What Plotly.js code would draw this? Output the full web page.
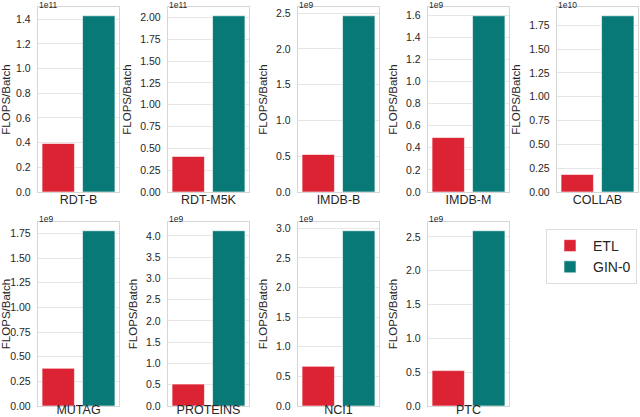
<!DOCTYPE html>
<html>
<head>
<meta charset="utf-8">
<script src="https://cdn.plot.ly/plotly-3.0.1.min.js"></script>
<style>
  html, body { margin: 0; padding: 0; background: #ffffff; }
  #chart { width: 640px; height: 417px; }
</style>
</head>
<body>
<div id="chart"></div>
<script>
// FLOPS per batch, ETL vs GIN-0, one panel per dataset.
// Values are mantissas; the panel exponent is shown above each y axis.
const datasets = ['RDT-B', 'RDT-M5K', 'IMDB-B', 'IMDB-M', 'COLLAB', 'MUTAG', 'PROTEINS', 'NCI1', 'PTC'];
const methods = ['ETL', 'GIN-0'];
const etlValues = [0.393, 0.408, 0.525, 0.493, 0.185, 0.383, 0.515, 0.67, 0.523];
const ginValues = [1.428, 2.02, 2.463, 1.595, 1.85, 1.778, 4.12, 2.96, 2.59];
const exponentLabels = ['1e11', '1e11', '1e9', '1e9', '1e10', '1e9', '1e9', '1e9', '1e9'];
const tickSteps = [0.2, 0.25, 0.5, 0.2, 0.25, 0.25, 0.5, 0.5, 0.5];
const tickDecimals = [1, 2, 1, 1, 2, 2, 1, 1, 1];

const COLOR_ETL = '#dc2333';
const COLOR_GIN = '#087976';
const TEXT = '#262626';
const SPINE = '#d6d6d6';
const GRID = '#e6e6e6';
const FONT = '"Liberation Sans", Arial, sans-serif';

const W = 640, H = 417;
const colLeft = [38, 168, 298, 428, 557];
const plotWidth = 81;
const rowTop = [7, 222];
const rowBottom = [192, 406];

const traces = [];
const layout = {
  width: W,
  height: H,
  margin: { l: 0, r: 0, t: 0, b: 0 },
  paper_bgcolor: '#ffffff',
  plot_bgcolor: '#ffffff',
  font: { family: FONT, color: TEXT, size: 11 },
  bargap: 0.2,
  showlegend: true,
  legend: {
    x: 546 / W, y: 1 - 229 / H,
    xanchor: 'left', yanchor: 'top',
    bordercolor: '#dddddd', borderwidth: 1,
    font: { size: 14, color: TEXT },
    itemwidth: 36,
    tracegroupgap: 0
  },
  annotations: []
};

function ticksFor(i, top) {
  const vals = [], text = [];
  const step = tickSteps[i];
  for (let k = 0; k * step <= top + 1e-9; k++) {
    vals.push(k * step);
    text.push((k * step).toFixed(tickDecimals[i]));
  }
  return { vals, text };
}

datasets.forEach((name, i) => {
  const row = i < 5 ? 0 : 1;
  const col = i % 5;
  const n = i + 1;
  const xa = 'x' + (n === 1 ? '' : n);
  const ya = 'y' + (n === 1 ? '' : n);
  const vals = [etlValues[i], ginValues[i]];
  const top = Math.max(...vals) * 1.05;

  methods.forEach((m, j) => {
    traces.push({
      type: 'bar',
      x: [m],
      y: [vals[j]],
      xaxis: xa,
      yaxis: ya,
      name: m,
      legendgroup: m,
      showlegend: i === 0,
      marker: { color: j === 0 ? COLOR_ETL : COLOR_GIN, line: { color: '#ffffff', width: 0.6 } },
      hoverinfo: 'skip'
    });
  });

  const x0 = colLeft[col] / W;
  const x1 = (colLeft[col] + plotWidth) / W;
  const y0 = 1 - rowBottom[row] / H;
  const y1 = 1 - rowTop[row] / H;
  const t = ticksFor(i, top);

  layout['xaxis' + (n === 1 ? '' : n)] = {
    domain: [x0, x1],
    anchor: ya,
    type: 'category',
    categoryorder: 'array',
    categoryarray: methods,
    range: [-0.5, 1.5],
    showticklabels: false,
    ticks: '',
    showgrid: false,
    zeroline: false,
    showline: true, mirror: true, linecolor: SPINE, linewidth: 1.2,
    title: { text: name, font: { size: 12.5, color: TEXT }, standoff: 3 }
  };
  layout['yaxis' + (n === 1 ? '' : n)] = {
    domain: [y0, y1],
    anchor: xa,
    range: [0, top],
    tickvals: t.vals,
    ticktext: t.text,
    tickfont: { size: 10.5, color: TEXT },
    ticks: '',
    ticklabelstandoff: 4,
    showgrid: true, gridcolor: GRID, gridwidth: 1,
    zeroline: false,
    showline: true, mirror: true, linecolor: SPINE, linewidth: 1.2,
    title: { text: 'FLOPS/Batch', font: { size: 11.5, color: TEXT }, standoff: 6 }
  };
  layout.annotations.push({
    xref: 'paper', yref: 'paper',
    x: x0, y: row === 0 ? 1 : y1,
    xanchor: 'left', yanchor: row === 0 ? 'top' : 'bottom',
    yshift: row === 0 ? 1 : -3,
    borderpad: 0,
    showarrow: false,
    text: exponentLabels[i],
    font: { size: 8.5, color: TEXT }
  });
});

Plotly.newPlot('chart', traces, layout, { displayModeBar: false, staticPlot: true });
</script>
</body>
</html>
